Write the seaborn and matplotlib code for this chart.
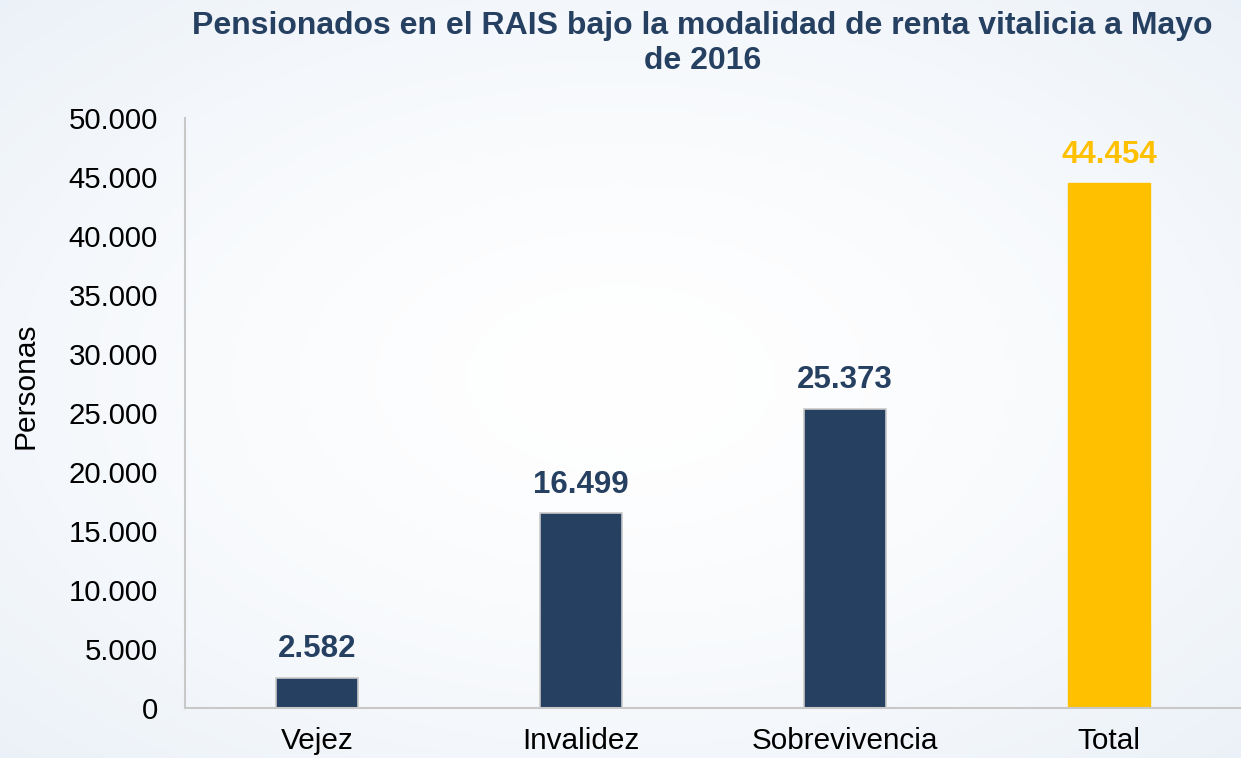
import numpy as np
import pandas as pd
import matplotlib
matplotlib.use("Agg")
import matplotlib.pyplot as plt
import seaborn as sns

categories = ["Vejez", "Invalidez", "Sobrevivencia", "Total"]
values = [2582, 16499, 25373, 44454]
value_labels = ["2.582", "16.499", "25.373", "44.454"]
yticks = [0, 5000, 10000, 15000, 20000, 25000, 30000, 35000, 40000, 45000, 50000]
ytick_labels = ["0", "5.000", "10.000", "15.000", "20.000", "25.000", "30.000",
                "35.000", "40.000", "45.000", "50.000"]
title = "Pensionados en el RAIS bajo la modalidad de renta vitalicia a Mayo\nde 2016"

navy = "#264061"
gold = "#FFC000"
bar_colors = [navy, navy, navy, gold]

sns.set_theme(style="white")
plt.rcParams["font.family"] = ["Liberation Sans", "DejaVu Sans"]

fig = plt.figure(figsize=(12.41, 7.58), dpi=100)

# background gradient
bg = fig.add_axes([0, 0, 1, 1], zorder=-10)
yy, xx = np.mgrid[0:1:200j, 0:1:300j]
d = np.sqrt(((xx - 0.5) / 0.85) ** 2 + ((yy - 0.5) / 0.85) ** 2)
d = np.clip(d, 0, 1) ** 1.5
c_in = np.array([1.0, 1.0, 1.0])
c_out = np.array([0.90, 0.93, 0.965])
img = c_in[None, None, :] * (1 - d[..., None]) + c_out[None, None, :] * d[..., None]
bg.imshow(img, aspect="auto", extent=[0, 1, 0, 1])
bg.axis("off")

ax = fig.add_axes([185 / 1241, 1 - 708 / 758, (1241 - 185) / 1241, (708 - 118) / 758])
ax.patch.set_alpha(0)

df = pd.DataFrame({"cat": categories, "val": values})
sns.barplot(data=df, x="cat", y="val", hue="cat", palette=bar_colors, legend=False,
            width=0.31, ax=ax, saturation=1)
for p, c in zip(ax.patches, bar_colors):
    if c == navy:
        p.set_edgecolor("#C8C8C8")
        p.set_linewidth(1.2)
    else:
        p.set_edgecolor(gold)

for i, (v, lab, c) in enumerate(zip(values, value_labels, bar_colors)):
    ax.text(i, v + 1150, lab, ha="center", va="bottom", fontsize=22.5,
            fontweight="bold", color=c)

ax.set_xlim(-0.5, 3.5)
ax.set_ylim(0, 50000)
ax.set_yticks(yticks)
ax.set_yticklabels(ytick_labels, fontsize=21.2, color="black")
ax.set_xticks(range(len(categories)))
ax.set_xticklabels(categories, fontsize=21.4, color="black")
ax.tick_params(axis="y", length=0, pad=19.5)
ax.tick_params(axis="x", length=0, pad=14)
ax.set_xlabel("")
ax.set_ylabel("Personas", fontsize=21.5, color="black")
ax.yaxis.set_label_coords(-0.138, 0.547)

for s in ["top", "right"]:
    ax.spines[s].set_visible(False)
for s in ["left", "bottom"]:
    ax.spines[s].set_visible(True)
    ax.spines[s].set_color("#C8C8C8")
    ax.spines[s].set_linewidth(1.5)

fig.text(0.566, 0.985, title, ha="center", va="top", fontsize=23,
         fontweight="bold", color=navy, linespacing=1.2)

fig.savefig("out.png", dpi=100)
